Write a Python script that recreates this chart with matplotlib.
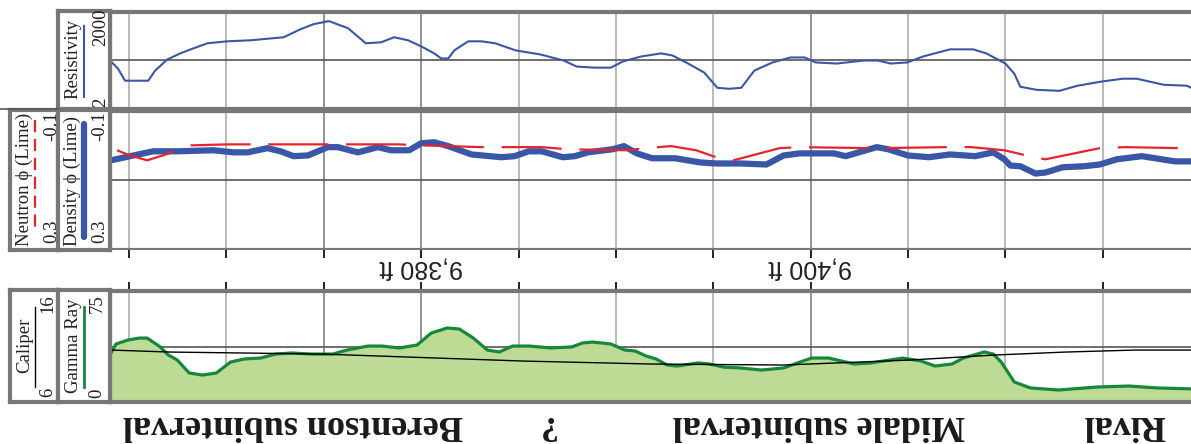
import matplotlib
matplotlib.use("Agg")
import matplotlib.pyplot as plt
from matplotlib.lines import Line2D

# ---------------- data ----------------
res_depth = [9364.07, 9364.43, 9364.79, 9365.98, 9366.34, 9366.96, 9367.63, 9368.30, 9369.02, 9370.05,
             9371.24, 9372.94, 9373.81, 9374.48, 9375.26, 9376.24, 9377.16, 9377.94, 9378.61, 9379.33,
             9380.00, 9380.67, 9381.03, 9381.39, 9381.70, 9382.42, 9383.09, 9383.81, 9384.85, 9386.13,
             9387.32, 9387.99, 9388.92, 9389.74, 9390.36, 9391.29, 9392.32, 9392.89, 9393.61, 9394.54,
             9395.21, 9395.82, 9396.44, 9397.11, 9398.04, 9398.97, 9399.69, 9400.26, 9401.34, 9402.73,
             9403.45, 9404.12, 9404.95, 9405.77, 9407.16, 9408.35, 9409.02, 9410.00, 9410.46, 9410.77,
             9411.60, 9412.78, 9413.71, 9414.90, 9416.03, 9416.75, 9418.14, 9419.33, 9419.74]
resistivity = [59, 35.6, 15, 15, 30.8, 68, 105, 150, 215, 248,
               267, 331, 589, 843, 1047, 632, 215, 231, 331, 267,
               173, 105, 73, 73, 130, 248, 248, 215, 130, 97,
               63, 41, 38, 38, 59, 84, 105, 91, 55, 26.7,
               9.06, 8.43, 9.06, 30.8, 55, 78.5, 78.5, 55, 51, 63,
               63, 51, 55, 84, 140, 140, 105, 51, 24.8, 9.74,
               7.85, 7.3, 10.5, 14, 17.3, 17.3, 11.2, 10.5, 7.85]

den_depth = [9364.07, 9365.05, 9366.24, 9367.47, 9369.33, 9370.36, 9371.08, 9372.11, 9372.78, 9373.45,
             9374.18, 9375.21, 9375.72, 9376.75, 9377.78, 9378.45, 9379.38, 9380.00, 9380.67, 9381.39,
             9382.58, 9384.12, 9384.79, 9385.52, 9386.19, 9387.27, 9387.89, 9388.56, 9389.85, 9390.41,
             9391.08, 9391.86, 9393.04, 9394.33, 9395.15, 9396.44, 9397.73, 9398.61, 9399.43, 9401.19,
             9401.80, 9402.47, 9403.40, 9403.97, 9405.00, 9406.08, 9407.16, 9408.45, 9409.38, 9409.95,
             9410.26, 9410.77, 9411.55, 9412.06, 9412.94, 9414.02, 9414.85, 9415.72, 9417.01, 9418.71,
             9419.74]
density_phi = [0.042, 0.030, 0.016, 0.016, 0.013, 0.019, 0.019, 0.007, 0.016, 0.030,
               0.028, 0.004, 0.004, 0.019, 0.004, 0.013, 0.013, -0.007, -0.010, 0.001,
               0.025, 0.033, 0.030, 0.016, 0.016, 0.033, 0.030, 0.019, 0.010, 0.001,
               0.022, 0.036, 0.036, 0.048, 0.051, 0.051, 0.054, 0.028, 0.022, 0.022,
               0.030, 0.019, 0.004, 0.010, 0.028, 0.033, 0.025, 0.030, 0.019, 0.039,
               0.057, 0.059, 0.080, 0.077, 0.062, 0.059, 0.054, 0.039, 0.030, 0.045,
               0.045]

neu_depth = [9364.38, 9365.05, 9365.93, 9366.60, 9367.22, 9368.14, 9370.05, 9374.33, 9378.81, 9380.00,
             9381.39, 9383.09, 9384.12, 9386.19, 9387.47, 9390.46, 9391.55, 9392.84, 9394.12, 9395.15,
             9396.03, 9398.40, 9399.43, 9403.30, 9406.96, 9408.25, 9409.95, 9411.24, 9412.06, 9414.85,
             9416.13, 9419.12, 9419.74]
neutron_phi = [0.013, 0.028, 0.042, 0.030, 0.019, -0.001, -0.004, -0.004, -0.004, -0.001,
               0.001, 0.004, 0.004, 0.004, 0.010, 0.013, 0.007, 0.001, 0.013, 0.033,
               0.042, 0.007, 0.004, 0.007, 0.004, 0.004, 0.013, 0.030, 0.039, 0.007,
               0.004, 0.007, 0.007]

gr_depth = [9364.07, 9364.33, 9364.95, 9365.52, 9365.93, 9366.60, 9367.01, 9367.47, 9368.09, 9368.76,
            9369.48, 9370.21, 9370.93, 9371.75, 9372.53, 9373.35, 9374.38, 9375.46, 9376.19, 9377.27,
            9377.99, 9378.87, 9379.79, 9380.52, 9381.34, 9381.96, 9382.68, 9383.40, 9384.02, 9384.69,
            9385.57, 9386.65, 9387.73, 9388.30, 9388.81, 9389.74, 9390.46, 9390.98, 9391.55, 9392.06,
            9392.63, 9393.14, 9394.23, 9394.79, 9395.52, 9396.39, 9397.47, 9398.61, 9399.33, 9400.05,
            9400.93, 9402.22, 9403.09, 9404.74, 9405.67, 9406.39, 9407.27, 9407.84, 9408.92, 9409.38,
            9409.79, 9410.46, 9411.29, 9412.73, 9414.69, 9416.34, 9417.78, 9419.74]
gamma_ray = [33.1, 39.2, 41.9, 43.2, 43.2, 37.2, 31.8, 28.4, 19.6, 18.2,
             19.6, 27.0, 29.1, 29.7, 32.4, 33.1, 32.4, 32.4, 35.1, 37.8,
             37.8, 36.5, 38.5, 46.6, 50.0, 49.3, 43.2, 35.1, 33.8, 37.8,
             37.8, 36.5, 37.2, 39.9, 40.5, 39.2, 35.1, 34.5, 31.1, 29.1,
             25.0, 24.3, 26.4, 25.7, 23.6, 23.0, 21.6, 23.0, 26.4, 29.7,
             29.7, 25.7, 26.4, 29.7, 27.7, 24.3, 25.7, 29.7, 33.8, 32.4,
             27.0, 13.5, 9.5, 8.1, 10.1, 10.8, 9.5, 8.8]

cal_depth = [9364.07, 9367.11, 9374.90, 9385.21, 9391.86, 9398.61, 9405.10, 9409.43, 9413.09, 9416.70, 9419.74]
caliper = [10.68, 10.50, 10.32, 9.69, 9.42, 9.33, 9.78, 10.23, 10.50, 10.68, 10.68]

grid_depths = [9365, 9370, 9375, 9380, 9385, 9390, 9395, 9400, 9405, 9410, 9415]
label_depths = [9380, 9400]
zone_names = ["Rival", "Midale subinterval", "?", "Berentson subinterval"]
zone_centers = [9416.1, 9400.4, 9386.4, 9373.4]

DEPTH_TOP, DEPTH_BOT = 9364.02, 9419.74

# ---------------- styling ----------------
W, H = 1191, 444
BORDER = '#777777'
BLUE = '#3a56a6'
RED = '#e8232b'
GREEN = '#16883c'
FILL = '#bddb95'
SERIF = ['Liberation Serif', 'DejaVu Serif']

fig = plt.figure(figsize=(W / 100, H / 100), dpi=100)


def box(x0, y0, x1, y1):
    return [x0 / W, 1 - y1 / H, (x1 - x0) / W, (y1 - y0) / H]


def fp(x, y):
    return (x / W, 1 - y / H)


def style_track(ax):
    ax.set_xlim(DEPTH_TOP, DEPTH_BOT)
    ax.set_xticks([])
    ax.set_yticks([])
    ax.minorticks_off()
    for s in ['top', 'bottom', 'left']:
        ax.spines[s].set_color(BORDER)
        ax.spines[s].set_linewidth(3)
    ax.spines['right'].set_visible(False)
    for d in grid_depths:
        c = '#8a8a8a' if d in (9375, 9380, 9400) else '#b4b4b4'
        ax.axvline(d, color=c, lw=1.3, zorder=0)


# Resistivity track
ax_res = fig.add_axes(box(110, 12, 1195, 109))
ax_res.set_yscale('log')
ax_res.set_ylim(2, 2000)
style_track(ax_res)
ax_res.set_yticks([], minor=True)
ax_res.axhline((2 * 2000) ** 0.5, color='#555555', lw=1.2, zorder=0)
ax_res.plot(res_depth, resistivity, color=BLUE, lw=1.5, zorder=3)

# Porosity track
ax_den = fig.add_axes(box(110, 111, 1195, 250))
ax_den.set_ylim(0.3, -0.1)
style_track(ax_den)
ax_den.axhline(0.1, color='#555555', lw=1.2, zorder=0)
ax_den.plot(den_depth, density_phi, color=BLUE, lw=4.5, solid_capstyle='round',
            solid_joinstyle='round', zorder=3)
ax_den.plot(neu_depth, neutron_phi, color=RED, lw=1.6, dashes=(27, 8), zorder=4)

# Depth track
ax_dep = fig.add_axes(box(110, 250, 1195, 290))
ax_dep.set_xlim(DEPTH_TOP, DEPTH_BOT)
ax_dep.set_ylim(0, 1)
for s in ax_dep.spines.values():
    s.set_visible(False)
ax_dep.set_yticks([])
ax_dep.set_xticks(grid_depths)
ax_dep.tick_params(axis='x', direction='in', length=6, width=1.4, color='#222222',
                   top=True, bottom=True, labelbottom=False, labeltop=False)
for d in label_depths:
    ax_dep.text(d, 0.56, f"{d:,} ft", rotation=180, ha='center', va='center',
                fontsize=18, family=['Liberation Sans', 'DejaVu Sans'], color='#222222')

# Gamma ray / caliper track
ax_gr = fig.add_axes(box(110, 291, 1195, 402))
ax_gr.set_ylim(0, 75)
style_track(ax_gr)
ax_gr.axhline(37.5, color='#555555', lw=1.2, zorder=1)
ax_gr.fill_between(gr_depth, 0, gamma_ray, color=FILL, zorder=1, lw=0)
ax_gr.plot(gr_depth, gamma_ray, color=GREEN, lw=2.3, solid_joinstyle='round', zorder=4)
ax_cal = ax_gr.twinx()
ax_cal.set_ylim(6, 16)
ax_cal.set_xlim(DEPTH_TOP, DEPTH_BOT)
ax_cal.set_yticks([])
for s in ax_cal.spines.values():
    s.set_visible(False)
ax_cal.plot(cal_depth, caliper, color='black', lw=1.0, zorder=3)


# Header boxes
def header(x0, y0, x1, y1):
    ax = fig.add_axes(box(x0, y0, x1, y1))
    ax.set_xticks([])
    ax.set_yticks([])
    ax.set_facecolor('white')
    for s in ax.spines.values():
        s.set_color(BORDER)
        s.set_linewidth(3)
    return ax


header(58, 11, 110, 109)
header(10, 110, 58, 250)
header(58, 110, 110, 250)
header(10, 290, 58, 402)
header(58, 290, 110, 402)


def htext(x, y, s, size=13.5):
    fig.text(*fp(x, y), s, rotation=90, ha='center', va='center', fontsize=size,
             family=SERIF, color='#222222')


def hline(x, y0, y1, **kw):
    fig.add_artist(Line2D([x / W, x / W], [1 - y0 / H, 1 - y1 / H], transform=fig.transFigure, **kw))


# Resistivity header
htext(73, 59, "Resistivity")
hline(84, 26, 97, color=BLUE, lw=1.5)
htext(101, 27, "2000", 13.5)
htext(101, 102, "2", 13.5)

# Neutron header
htext(24, 179, "Neutron \u03d5 (Lime)")
hline(35, 120, 231, color=RED, lw=1.6, dashes=(5.5, 3))
htext(52, 126, "-0.1", 13.5)
htext(52, 231, "0.3", 13.5)

# Density header
htext(72, 181, "Density \u03d5 (Lime)")
hline(84, 124, 237, color=BLUE, lw=4.5, solid_capstyle='round')
htext(100, 126, "-0.1", 13.5)
htext(100, 231, "0.3", 13.5)

# Caliper header
htext(25, 345, "Caliper")
hline(35, 307, 387, color='black', lw=1.0)
htext(48, 304, "16", 13.5)
htext(48, 392, "6", 13.5)

# Gamma header
htext(74, 346, "Gamma Ray")
hline(84, 307, 387, color=GREEN, lw=2.0)
htext(97, 304, "75", 13.5)
htext(97, 393, "0", 13.5)

# line at left above porosity headers
fig.add_artist(Line2D([0, 58 / W], [1 - 109 / H, 1 - 109 / H], transform=fig.transFigure,
                      color='#555555', lw=1.2))

# Zone labels (upside down)
for name, d in zip(zone_names, zone_centers):
    ax_gr.text(d, -0.2, name, transform=ax_gr.get_xaxis_transform(), rotation=180,
               ha='center', va='center', fontsize=26, fontweight='bold', family=SERIF,
               color='#1a1a1a', clip_on=False)

fig.savefig('out.png', dpi=100)
